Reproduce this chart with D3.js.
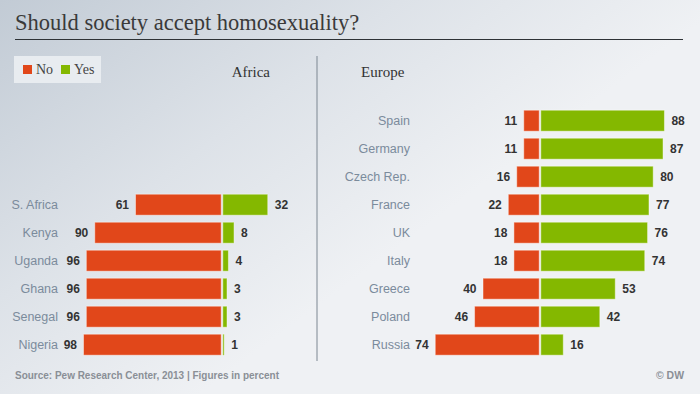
<!DOCTYPE html>
<html>
<head>
<meta charset="utf-8">
<script src="https://cdn.jsdelivr.net/npm/d3@7"></script>
<style>
  html, body { margin: 0; padding: 0; background: #eef0f3; }
  svg { display: block; }
</style>
</head>
<body>
<div id="viz"></div>
<script>
// data
var africaCountries = ["S. Africa", "Kenya", "Uganda", "Ghana", "Senegal", "Nigeria"];
var africaNo  = [61, 90, 96, 96, 96, 98];
var africaYes = [32, 8, 4, 3, 3, 1];

var europeCountries = ["Spain", "Germany", "Czech Rep.", "France", "UK", "Italy", "Greece", "Poland", "Russia"];
var europeNo  = [11, 11, 16, 22, 18, 18, 40, 46, 74];
var europeYes = [88, 87, 80, 77, 76, 74, 53, 42, 16];

var legendLabels = ["No", "Yes"];

var width = 700, height = 394;
var red = "#e1471a", green = "#84b800";
var bar_height = 21;

var svg = d3.select("#viz")
  .append("svg")
  .attr("width", width)
  .attr("height", height);

// background
var defs = svg.append("defs");
var grad = defs.append("linearGradient")
  .attr("id", "bg")
  .attr("gradientUnits", "userSpaceOnUse")
  .attr("x1", 0).attr("y1", 0)
  .attr("x2", 260).attr("y2", 350);
grad.append("stop").attr("offset", "0%").attr("stop-color", "#c2cbd5");
grad.append("stop").attr("offset", "55%").attr("stop-color", "#dde2e8");
grad.append("stop").attr("offset", "100%").attr("stop-color", "#eff1f4");

svg.append("rect")
  .attr("width", width).attr("height", height)
  .attr("fill", "url(#bg)");

// title
svg.append("text")
  .attr("x", 15).attr("y", 30)
  .attr("font-family", "Liberation Serif, serif")
  .attr("font-size", 22.5)
  .attr("fill", "#3a3a3a")
  .text("Should society accept homosexuality?");

svg.append("line")
  .attr("x1", 15).attr("x2", 683)
  .attr("y1", 39.5).attr("y2", 39.5)
  .attr("stroke", "#2e3236")
  .attr("stroke-width", 1.2);

// legend
svg.append("rect")
  .attr("x", 14).attr("y", 56)
  .attr("width", 87).attr("height", 27)
  .attr("fill", "#e8ecf0");

var legendX = [23, 61];
legendLabels.forEach(function(d, i) {
  svg.append("rect")
    .attr("x", legendX[i]).attr("y", 65)
    .attr("width", 9).attr("height", 9)
    .attr("fill", i == 0 ? red : green);
  svg.append("text")
    .attr("x", legendX[i] + 13).attr("y", 74)
    .attr("font-family", "Liberation Serif, serif")
    .attr("font-size", 14)
    .attr("fill", "#444")
    .text(d);
});

// region titles
svg.append("text")
  .attr("x", 270).attr("y", 77)
  .attr("text-anchor", "end")
  .attr("font-family", "Liberation Serif, serif")
  .attr("font-size", 15)
  .attr("fill", "#333")
  .text("Africa");

svg.append("text")
  .attr("x", 361).attr("y", 77)
  .attr("font-family", "Liberation Serif, serif")
  .attr("font-size", 15)
  .attr("fill", "#333")
  .text("Europe");

// divider
svg.append("line")
  .attr("x1", 317).attr("x2", 317)
  .attr("y1", 56).attr("y2", 361)
  .attr("stroke", "#7d8792")
  .attr("stroke-width", 1);

// row positions shared by both panels
var y = d3.scalePoint()
  .domain(d3.range(9))
  .range([120.7, 344.7]);

var x = d3.scaleLinear()
  .domain([0, 100])
  .range([0, 140.5]);

function panel(countries, no, yes, centre, labelX) {
  var offset = 9 - countries.length;
  var g = svg.append("g");
  var rows = g.selectAll("g.row")
    .data(countries)
    .enter().append("g")
    .attr("class", "row")
    .attr("transform", function(d, i) { return "translate(0," + y(i + offset) + ")"; });

  rows.append("text")
    .attr("x", labelX).attr("y", 4.5)
    .attr("text-anchor", "end")
    .attr("font-family", "Liberation Sans, Arial, sans-serif")
    .attr("font-size", 12.5)
    .attr("fill", "#7b8b9c")
    .text(function(d) { return d; });

  rows.append("rect")
    .attr("x", function(d, i) { return centre - 0.8 - x(no[i]); })
    .attr("y", -bar_height / 2)
    .attr("width", function(d, i) { return x(no[i]); })
    .attr("height", bar_height)
    .attr("fill", red)
    .attr("stroke", "rgba(255,255,255,0.45)")
    .attr("stroke-width", 1);

  rows.append("rect")
    .attr("x", centre + 0.8)
    .attr("y", -bar_height / 2)
    .attr("width", function(d, i) { return x(yes[i]); })
    .attr("height", bar_height)
    .attr("fill", green)
    .attr("stroke", "rgba(255,255,255,0.45)")
    .attr("stroke-width", 1);

  rows.append("text")
    .attr("x", function(d, i) { return centre - 0.8 - x(no[i]) - 6.5; })
    .attr("y", 4.5)
    .attr("text-anchor", "end")
    .attr("font-family", "Liberation Sans, Arial, sans-serif")
    .attr("font-weight", "bold")
    .attr("font-size", 12)
    .attr("fill", "#333")
    .text(function(d, i) { return no[i]; });

  rows.append("text")
    .attr("x", function(d, i) { return centre + 0.8 + x(yes[i]) + 7; })
    .attr("y", 4.5)
    .attr("font-family", "Liberation Sans, Arial, sans-serif")
    .attr("font-weight", "bold")
    .attr("font-size", 12)
    .attr("fill", "#333")
    .text(function(d, i) { return yes[i]; });
}

panel(africaCountries, africaNo, africaYes, 222, 58);
panel(europeCountries, europeNo, europeYes, 540, 410);

// footer
svg.append("text")
  .attr("x", 15).attr("y", 379)
  .attr("font-family", "Liberation Sans, Arial, sans-serif")
  .attr("font-weight", "bold")
  .attr("font-size", 11)
  .attr("textLength", 264)
  .attr("lengthAdjust", "spacingAndGlyphs")
  .attr("fill", "#8a8f96")
  .text("Source: Pew Research Center, 2013 | Figures in percent");

svg.append("text")
  .attr("x", 684).attr("y", 379)
  .attr("text-anchor", "end")
  .attr("font-family", "Liberation Sans, Arial, sans-serif")
  .attr("font-weight", "bold")
  .attr("font-size", 11)
  .attr("textLength", 28)
  .attr("lengthAdjust", "spacingAndGlyphs")
  .attr("fill", "#8a8f96")
  .text("© DW");
</script>
</body>
</html>
